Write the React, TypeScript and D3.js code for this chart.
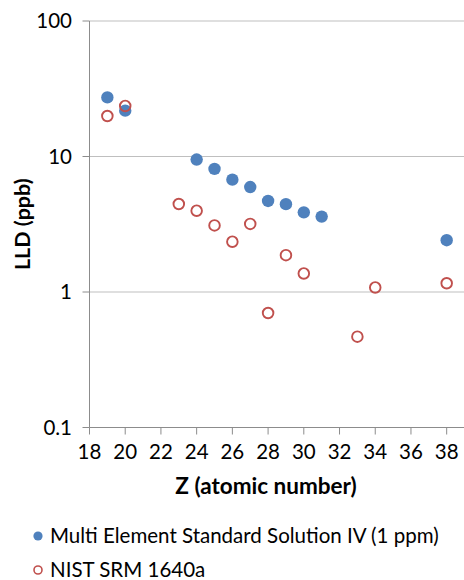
import React from "react";
import * as d3 from "d3";

const zMulti = [19, 20, 24, 25, 26, 27, 28, 29, 30, 31, 38];
const lldMulti = [27.3, 21.8, 9.5, 8.1, 6.75, 5.95, 4.7, 4.45, 3.87, 3.6, 2.41];
const zNist = [19, 20, 23, 24, 25, 26, 27, 28, 29, 30, 33, 34, 38];
const lldNist = [19.9, 23.6, 4.46, 3.98, 3.1, 2.35, 3.18, 0.7, 1.87, 1.37, 0.468, 1.08, 1.16];
const xTicks = [18, 20, 22, 24, 26, 28, 30, 32, 34, 36, 38];
const yTicks = [0.1, 1, 10, 100];
const yTickLabels = ["0.1", "1", "10", "100"];
const legendLabels = ["Multi Element Standard Solution IV (1 ppm)", "NIST SRM 1640a"];

const W = 464;
const H = 580;
const FONT = "Lato, 'Open Sans', sans-serif";
const BLUE = "#4F81BD";
const RED = "#C0504D";

export default function App() {
  const x = d3.scaleLinear().domain([18, 40]).range([89.5, 482.4]);
  const y = d3.scaleLog().domain([0.1, 100]).range([427.5, 21]);
  const [x0] = x.range();
  const [yb, yt] = y.range();

  return (
    <svg width={W} height={H} style={{ position: "absolute", left: 0, top: 0, background: "#fff" }} fontFamily={FONT}>
      {yTicks.map((t, i) => (
        <g key={"y" + i}>
          {t > 0.1 && <line x1={x0} x2={W} y1={y(t)} y2={y(t)} stroke="#BFBFBF" strokeWidth={1} />}
          <line x1={x0 - 7} x2={x0} y1={y(t)} y2={y(t)} stroke="#8C8C8C" strokeWidth={1} />
          <text x={72} y={y(t)} dy="0.35em" textAnchor="end" fontSize={20.5} fill="#000">
            {yTickLabels[i]}
          </text>
        </g>
      ))}
      <line x1={x0} x2={x0} y1={yt} y2={yb} stroke="#8C8C8C" strokeWidth={1} />
      <line x1={x0} x2={W} y1={yb} y2={yb} stroke="#8C8C8C" strokeWidth={1} />
      {xTicks.map((t) => (
        <g key={"x" + t}>
          <line x1={x(t)} x2={x(t)} y1={yb} y2={yb + 7} stroke="#8C8C8C" strokeWidth={1} />
          <text x={x(t)} y={459} textAnchor="middle" fontSize={20.5} fill="#000">
            {t}
          </text>
        </g>
      ))}
      <text
        transform={`translate(22, ${(yt + yb) / 2}) rotate(-90)`}
        textAnchor="middle"
        dy="0.35em"
        fontSize={21.5}
        fontWeight="bold"
        fill="#000"
      >
        LLD (ppb)
      </text>
      <text x={266} y={494} textAnchor="middle" fontSize={22.5} fontWeight="bold" fill="#000">
        Z (atomic number)
      </text>
      {zMulti.map((z, i) => (
        <circle key={"m" + i} cx={x(z)} cy={y(lldMulti[i])} r={6.2} fill={BLUE} />
      ))}
      {zNist.map((z, i) => (
        <circle key={"n" + i} cx={x(z)} cy={y(lldNist[i])} r={5.3} fill="none" stroke={RED} strokeWidth={1.9} />
      ))}
      <circle cx={38} cy={536} r={4.6} fill={BLUE} />
      <text x={50} y={543} fontSize={20.5} fill="#000">{legendLabels[0]}</text>
      <circle cx={38} cy={570} r={4} fill="none" stroke={RED} strokeWidth={1.6} />
      <text x={50} y={577} fontSize={20.5} fill="#000">{legendLabels[1]}</text>
    </svg>
  );
}
